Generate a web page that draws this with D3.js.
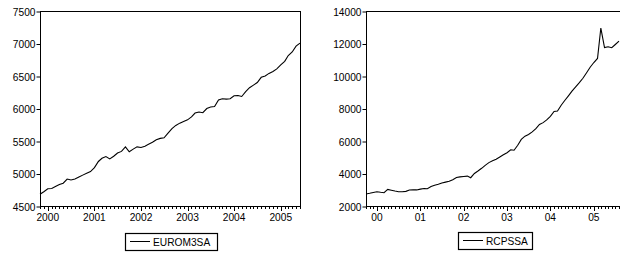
<!DOCTYPE html>
<html>
<head>
<meta charset="utf-8">
<script src="https://cdn.jsdelivr.net/npm/d3@7"></script>
<style>
  body { margin: 0; background: #fff; }
  svg { display: block; }
  text { font-family: Arial, "Liberation Sans", sans-serif; font-size: 10.2px; fill: #000; }
</style>
</head>
<body>
<div id="chart"></div>
<script>
const WIDTH = 620;
const HEIGHT = 253;

// monthly series, EUROM3SA from 1999M11, RCPSSA from 1999M10
const EURO_START = [1999, 10];
const EURO_VALUES = [4680, 4720, 4765, 4770, 4800, 4830, 4850, 4915, 4900, 4915, 4945, 4975,
  5005, 5030, 5090, 5185, 5235, 5260, 5225, 5265, 5315, 5340, 5410, 5335,
  5375, 5410, 5400, 5420, 5450, 5480, 5520, 5540, 5550, 5620, 5690, 5740,
  5775, 5800, 5825, 5870, 5930, 5945, 5935, 6000, 6022, 6030, 6130, 6150,
  6145, 6150, 6195, 6200, 6185, 6260, 6320, 6360, 6400, 6480, 6500, 6540,
  6570, 6610, 6670, 6725, 6815, 6870, 6960, 7005];
const EURO_TICKS = [4500, 5000, 5500, 6000, 6500, 7000, 7500];

const RCP_START = [1999, 9];
const RCP_VALUES = [2740, 2780, 2830, 2880, 2845, 2820, 3020, 2970, 2920, 2880, 2880, 2900,
  2980, 3000, 2990, 3040, 3080, 3060, 3200, 3280, 3340, 3420, 3470, 3520,
  3620, 3750, 3790, 3820, 3840, 3740, 4000, 4150, 4320, 4500, 4670, 4780,
  4880, 5020, 5150, 5280, 5460, 5430, 5740, 6100, 6300, 6400, 6560, 6760,
  7020, 7130, 7300, 7520, 7820, 7840, 8200, 8490, 8780, 9070, 9330, 9590,
  9860, 10200, 10540, 10830, 11080, 12950, 11750, 11800, 11740, 11940, 12150];
const RCP_TICKS = [2000, 4000, 6000, 8000, 10000, 12000, 14000];

const svg = d3.select("#chart").append("svg")
  .attr("width", WIDTH)
  .attr("height", HEIGHT);

function drawPanel(opt) {
  const dates = opt.values.map((v, i) => new Date(opt.start[0], opt.start[1] + i, 1));
  const x = d3.scaleTime()
    .domain([dates[0], dates[dates.length - 1]])
    .range([opt.left, opt.dataRight]);
  const y = d3.scaleLinear()
    .domain([opt.ticks[0], opt.ticks[opt.ticks.length - 1]])
    .range([opt.bottom, opt.top]);

  const g = svg.append("g");

  // frame
  g.append("rect")
    .attr("x", opt.left + 0.5).attr("y", opt.top + 0.5)
    .attr("width", opt.frameRight - opt.left).attr("height", opt.bottom - opt.top)
    .attr("fill", "none").attr("stroke", "#000").attr("stroke-width", 1);

  // y axis
  const yAxis = d3.axisLeft(y).tickValues(opt.ticks).tickSize(4).tickPadding(1)
    .tickFormat(d3.format("d"));
  g.append("g")
    .attr("transform", `translate(${opt.left + 0.5},0.5)`)
    .call(yAxis)
    .call(a => a.select(".domain").remove())
    .call(a => a.selectAll("text").attr("dy", "0.35em"));

  // x axis: month ticks, longer ones at January
  const months = d3.timeMonth.range(dates[0], d3.timeDay.offset(dates[dates.length - 1], 1));
  g.append("g").selectAll("line")
    .data(months)
    .join("line")
      .attr("x1", d => Math.round(x(d)) + 0.5)
      .attr("x2", d => Math.round(x(d)) + 0.5)
      .attr("y1", opt.bottom + 0.5)
      .attr("y2", d => opt.bottom + (d.getMonth() === 0 ? 5 : 3))
      .attr("stroke", "#000").attr("stroke-width", 1);

  const years = months.filter(d => d.getMonth() === 0);
  g.append("g").selectAll("text")
    .data(years)
    .join("text")
      .attr("x", d => x(d))
      .attr("y", opt.bottom + 15)
      .attr("text-anchor", "middle")
      .text(d => opt.yearFormat(d));

  // series
  g.append("path")
    .datum(opt.values)
    .attr("fill", "none")
    .attr("stroke", "#000")
    .attr("stroke-width", 1.1)
    .attr("d", d3.line().x((d, i) => x(dates[i])).y(d => y(d)));

  // legend
  const lg = g.append("g");
  lg.append("rect")
    .attr("x", opt.legend.x + 0.5).attr("y", opt.legend.y + 0.5)
    .attr("width", opt.legend.w).attr("height", 17)
    .attr("fill", "#fff").attr("stroke", "#000").attr("stroke-width", 1.2);
  lg.append("line")
    .attr("x1", opt.legend.x + 5).attr("x2", opt.legend.x + 25)
    .attr("y1", opt.legend.y + 8.5).attr("y2", opt.legend.y + 8.5)
    .attr("stroke", "#000");
  lg.append("text")
    .attr("x", opt.legend.x + 28)
    .attr("y", opt.legend.y + 13)
    .text(opt.name);
}

drawPanel({
  name: "EUROM3SA",
  start: EURO_START, values: EURO_VALUES, ticks: EURO_TICKS,
  left: 40, dataRight: 300, frameRight: 300, top: 11, bottom: 206,
  yearFormat: d3.timeFormat("%Y"),
  legend: {x: 125, y: 233, w: 92}
});

drawPanel({
  name: "RCPSSA",
  start: RCP_START, values: RCP_VALUES, ticks: RCP_TICKS,
  left: 366, dataRight: 619, frameRight: 624, top: 11, bottom: 206,
  yearFormat: d3.timeFormat("%y"),
  legend: {x: 458, y: 232, w: 74}
});
</script>
</body>
</html>
